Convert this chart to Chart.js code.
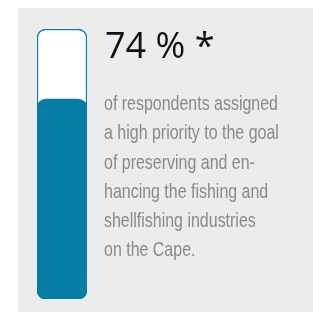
<!DOCTYPE html>
<html>
<head>
<meta charset="utf-8">
<script src="https://cdn.jsdelivr.net/npm/chart.js@4"></script>
<style>
  body { margin: 0; background: #fff; width: 313px; height: 312px; overflow: hidden; position: relative; }
  #panel { position: absolute; left: 18px; top: 8px; width: 295px; height: 304px; background: #ececec; }
  #plot { position: absolute; left: 0; top: 0; }
  #headline { position: absolute; left: 105px; top: 27px; font-family: "Open Sans", sans-serif; font-weight: 400;
    font-size: 36px; line-height: 36px; color: #111; white-space: nowrap; }
  #note { position: absolute; left: 104px; top: 88px; font-family: "Liberation Sans", sans-serif;
    font-size: 21px; line-height: 29.3px; color: #8a8a8a; white-space: nowrap; transform-origin: 0 0; }
  #note span { display: inline-block; }
</style>
</head>
<body>
<div id="panel"></div>
<canvas id="plot" width="313" height="312"></canvas>
<div id="headline"></div>
<div id="note"></div>
<script>
const categories = ["Fishing and shellfishing industries"];
const shareValues = [74];
const trackValues = [100];
const headlineText = "74 % *";
const noteLines = [
  "of respondents assigned",
  "a high priority to the goal",
  "of preserving and en-",
  "hancing the fishing and",
  "shellfishing industries",
  "on the Cape."
];

const TEAL = "rgb(6, 125, 166)";

document.querySelector("#headline").textContent = headlineText;
const note = document.querySelector("#note");
note.innerHTML = noteLines.map(l => "<span>" + l + "</span>").join("<br>");
// the original face is condensed: squeeze so the first line is ~174px wide
const firstWidth = note.querySelector("span").getBoundingClientRect().width;
note.style.transform = "scaleX(" + (174 / firstWidth) + ")";

const ctx = document.querySelector("#plot").getContext("2d");
const chart = new Chart(ctx, {
  type: "bar",
  data: {
    labels: categories,
    datasets: [
      {
        label: "High priority",
        data: shareValues,
        backgroundColor: TEAL,
        borderWidth: 0,
        borderRadius: 9,
        borderSkipped: false,
        grouped: false
      },
      {
        label: "Track",
        data: trackValues,
        backgroundColor: "#ffffff",
        borderColor: TEAL,
        borderWidth: 1.5,
        borderRadius: 9,
        borderSkipped: false,
        grouped: false
      }
    ]
  },
  options: {
    responsive: false,
    animation: false,
    layout: { padding: { left: 37, right: 226, top: 29, bottom: 13 } },
    barPercentage: 1,
    categoryPercentage: 1,
    scales: {
      x: { display: false },
      y: { display: false, min: 0, max: 100 }
    },
    plugins: { legend: { display: false }, tooltip: { enabled: false } }
  }
});
</script>
</body>
</html>
